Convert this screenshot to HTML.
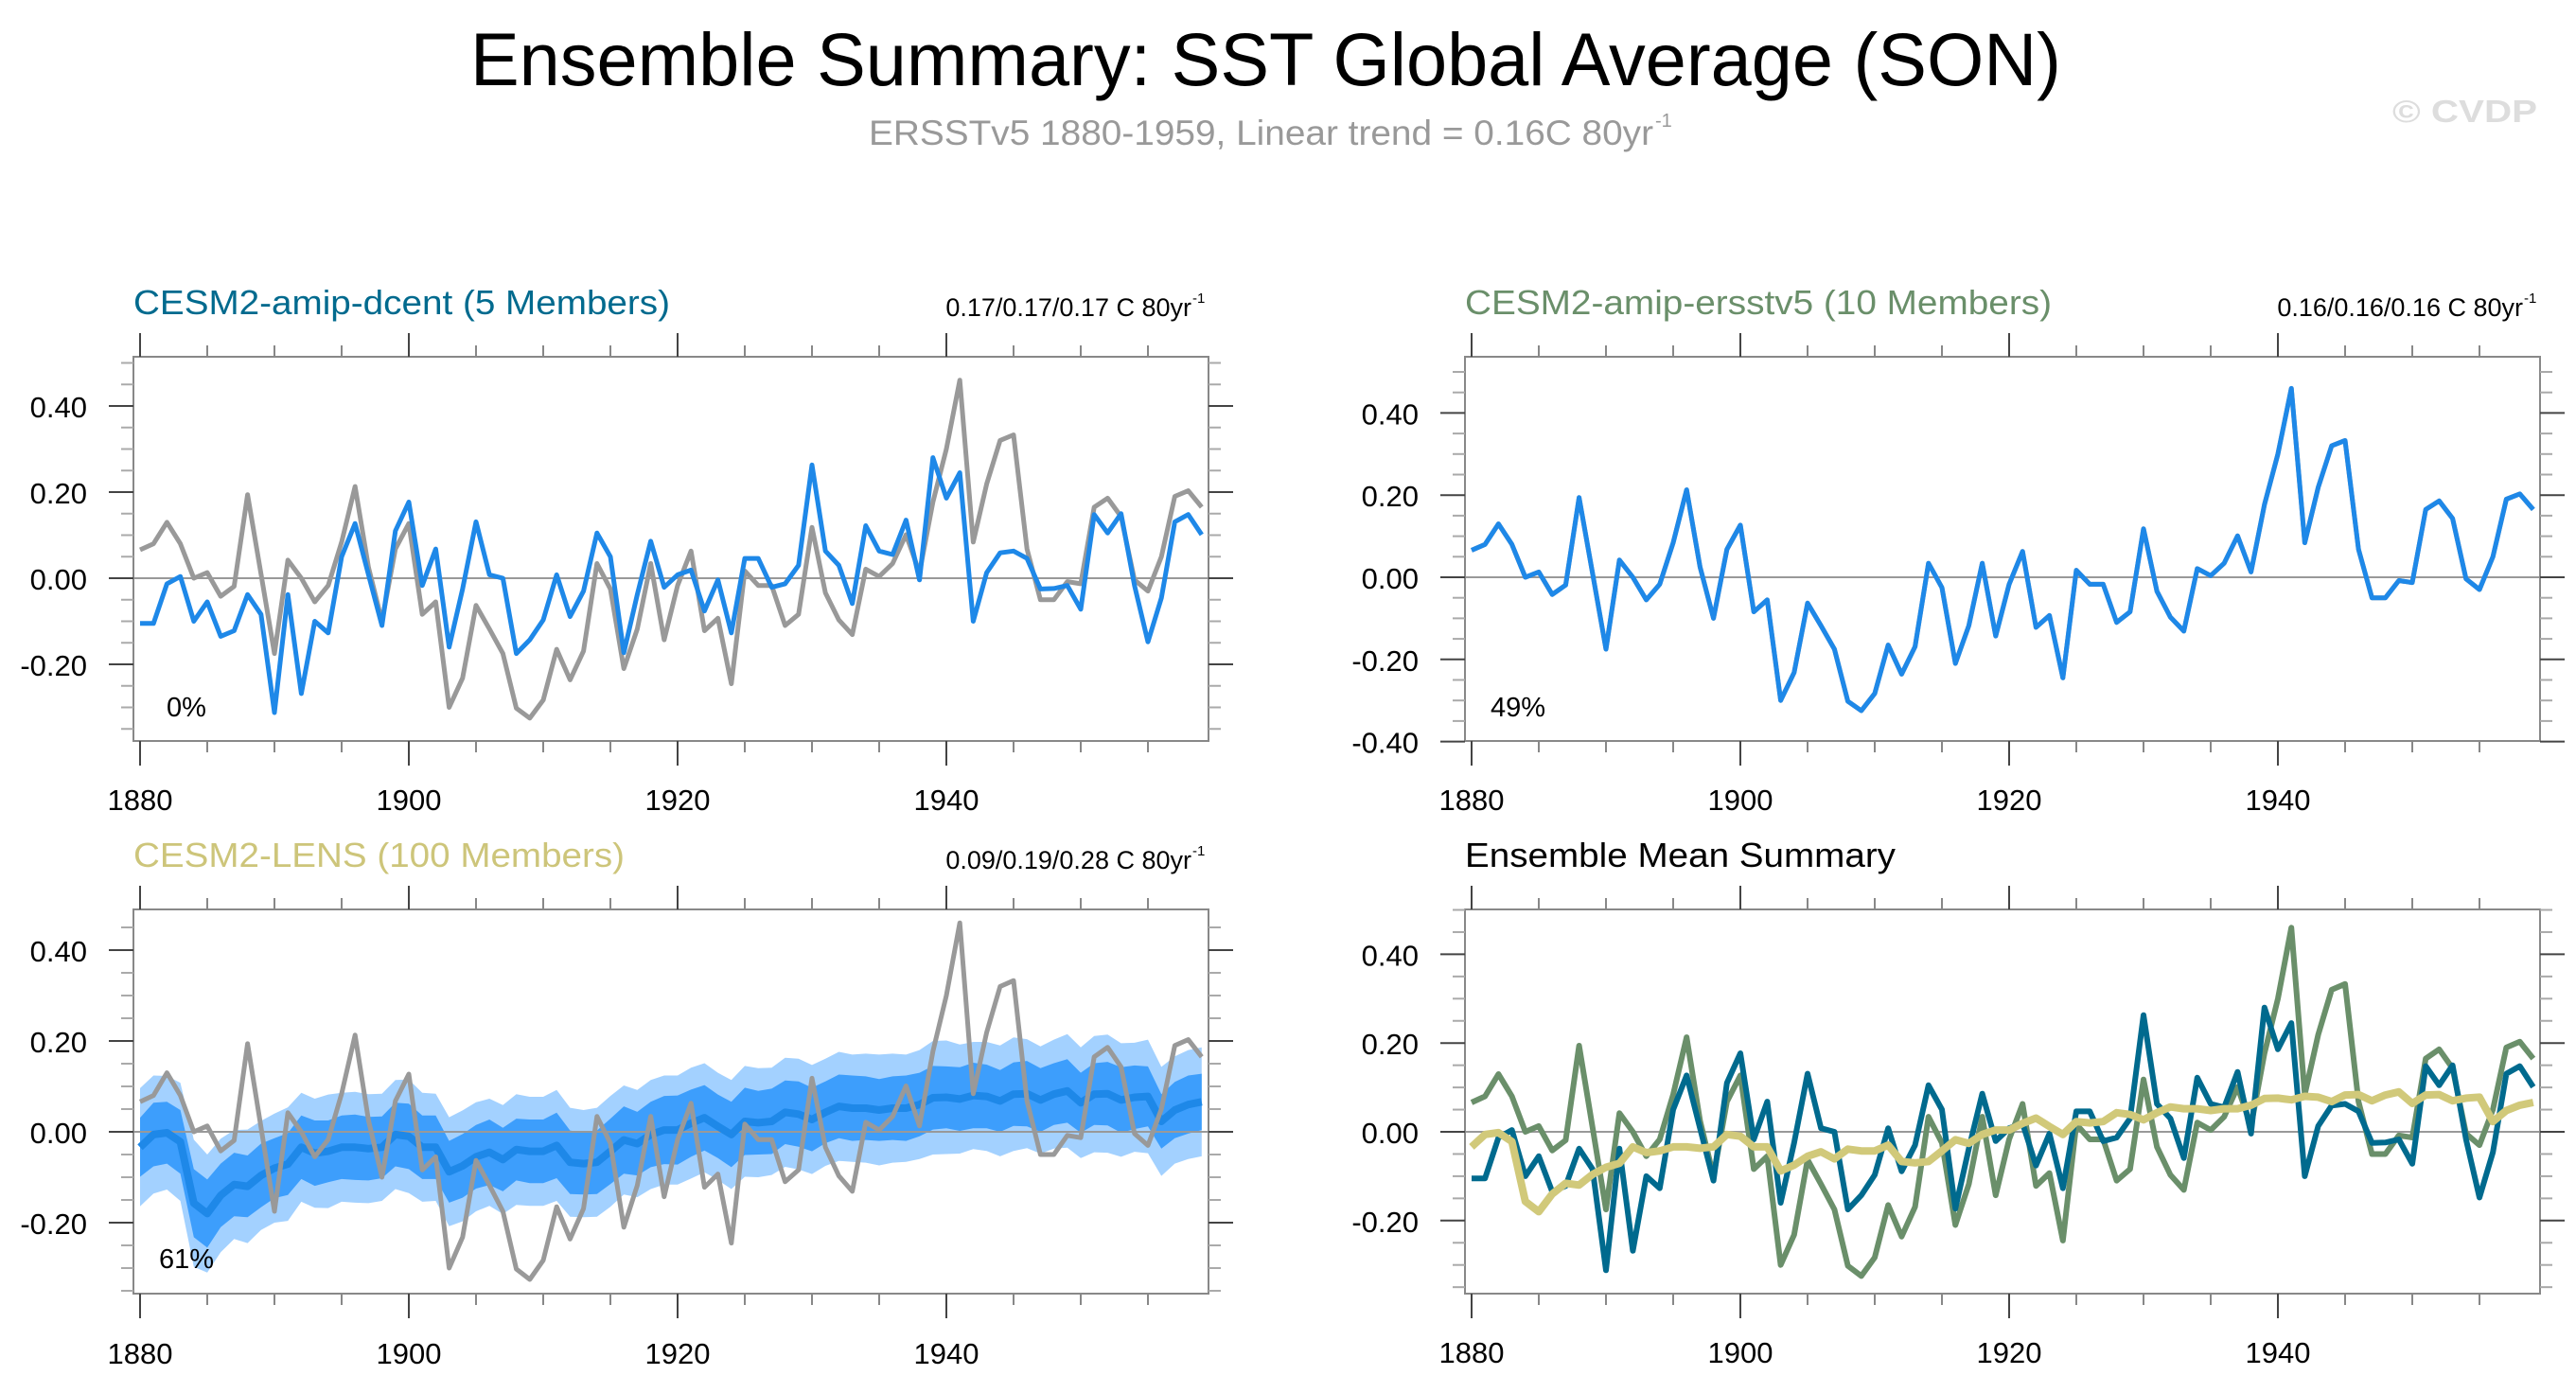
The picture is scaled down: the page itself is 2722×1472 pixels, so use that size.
<!DOCTYPE html>
<html><head><meta charset="utf-8">
<style>
html,body{margin:0;padding:0;background:#fff;}
svg{display:block;font-family:"Liberation Sans",sans-serif;}
</style></head>
<body>
<svg id="fig" width="2722" height="1472" viewBox="0 0 2722 1472" xmlns="http://www.w3.org/2000/svg">
<text x="497" y="90" font-size="79" textLength="1681" lengthAdjust="spacingAndGlyphs" fill="#000">Ensemble Summary: SST Global Average (SON)</text>
<text x="918" y="153" font-size="37" textLength="829" lengthAdjust="spacingAndGlyphs" fill="#999">ERSSTv5 1880-1959, Linear trend = 0.16C 80yr</text>
<text x="1749" y="134" font-size="20" fill="#999">-1</text>
<text x="2528" y="129" font-size="33" font-weight="bold" textLength="153" lengthAdjust="spacingAndGlyphs" fill="#ddd">© CVDP</text>
<g id="plots"></g>
</svg>
<script>
const years = [];
for (let y = 1880; y <= 1959; y++) years.push(y);

const obsSeries = [0.066,0.08,0.13,0.08,0.0,0.013,-0.042,-0.019,0.194,0.01,-0.175,0.042,0.0,-0.055,-0.017,0.084,0.213,0.025,-0.1,0.068,
0.127,-0.084,-0.055,-0.3,-0.232,-0.063,-0.118,-0.175,-0.302,-0.325,-0.283,-0.165,-0.236,-0.169,0.034,-0.025,-0.21,-0.118,0.034,-0.143,
-0.017,0.063,-0.122,-0.093,-0.245,0.017,-0.017,-0.017,-0.11,-0.084,0.118,-0.034,-0.097,-0.131,0.021,0.004,0.034,0.101,0.013,0.177,
0.30,0.46,0.084,0.219,0.32,0.333,0.068,-0.05,-0.05,-0.008,-0.013,0.165,0.186,0.143,-0.004,-0.03,0.05,0.19,0.203,0.165];

const dcentSeries = [-0.105,-0.105,-0.013,0.004,-0.10,-0.055,-0.135,-0.122,-0.038,-0.084,-0.312,-0.038,-0.268,-0.10,-0.127,0.05,0.127,0.008,-0.11,0.11,
0.177,-0.017,0.068,-0.16,-0.025,0.131,0.008,0.0,-0.175,-0.143,-0.097,0.008,-0.089,-0.03,0.105,0.05,-0.173,-0.038,0.086,-0.021,
0.008,0.019,-0.076,-0.004,-0.127,0.046,0.046,-0.021,-0.013,0.03,0.263,0.063,0.03,-0.059,0.122,0.063,0.055,0.135,-0.004,0.28,
0.186,0.245,-0.10,0.013,0.059,0.063,0.046,-0.025,-0.024,-0.017,-0.072,0.148,0.105,0.15,-0.017,-0.148,-0.046,0.131,0.148,0.101];

const ersstv5Series = obsSeries.slice();

const lensMean = [-0.034,-0.006,-0.002,-0.022,-0.157,-0.18,-0.14,-0.116,-0.12,-0.096,-0.08,-0.071,-0.034,-0.047,-0.043,-0.034,-0.034,-0.037,-0.034,-0.006,
-0.01,-0.034,-0.034,-0.088,-0.075,-0.055,-0.045,-0.061,-0.039,-0.043,-0.043,-0.03,-0.067,-0.07,-0.067,-0.043,-0.018,-0.026,-0.006,0.004,
0.004,0.019,0.031,0.012,-0.006,0.023,0.02,0.023,0.043,0.039,0.027,0.043,0.056,0.052,0.052,0.048,0.052,0.052,0.06,0.075,
0.076,0.072,0.08,0.078,0.068,0.083,0.084,0.07,0.083,0.09,0.064,0.083,0.084,0.07,0.076,0.078,0.023,0.048,0.06,0.066];

const innerHalf = [0.065,0.07,0.068,0.07,0.075,0.075,0.07,0.07,0.068,0.07,0.066,0.068,0.07,0.072,0.068,0.07,0.072,0.07,0.068,0.07,
0.072,0.07,0.07,0.068,0.07,0.07,0.072,0.07,0.068,0.07,0.07,0.072,0.07,0.068,0.07,0.072,0.074,0.07,0.072,0.075,
0.076,0.074,0.072,0.07,0.072,0.074,0.07,0.072,0.07,0.072,0.07,0.068,0.07,0.072,0.07,0.068,0.07,0.072,0.07,0.07,
0.068,0.07,0.072,0.07,0.068,0.07,0.072,0.07,0.068,0.07,0.066,0.068,0.07,0.072,0.07,0.066,0.06,0.062,0.064,0.062];

const outerHalf = [0.13,0.13,0.125,0.13,0.14,0.13,0.125,0.12,0.125,0.12,0.12,0.125,0.12,0.12,0.125,0.12,0.122,0.12,0.118,0.12,
0.125,0.12,0.118,0.12,0.122,0.12,0.118,0.12,0.122,0.12,0.12,0.122,0.12,0.118,0.12,0.122,0.12,0.118,0.12,0.12,
0.12,0.122,0.12,0.118,0.12,0.122,0.12,0.118,0.12,0.122,0.12,0.118,0.12,0.118,0.12,0.122,0.12,0.118,0.12,0.125,
0.125,0.12,0.118,0.12,0.122,0.125,0.12,0.118,0.12,0.125,0.122,0.128,0.13,0.125,0.12,0.125,0.12,0.118,0.12,0.12];

const xTickYears = [1880,1900,1920,1940];
const yTicksA = [0.4,0.2,0.0,-0.2];
const yTicksB = [0.4,0.2,0.0,-0.2,-0.4];

const NS = "http://www.w3.org/2000/svg";
const root = document.getElementById('plots');
function mk(tag, attrs, parent) {
  const e = document.createElementNS(NS, tag);
  for (const k in attrs) e.setAttribute(k, attrs[k]);
  (parent || root).appendChild(e);
  return e;
}

function panel(cfg) {
  const g = mk('g', {});
  
  
  const xs = yr => cfg.x1880 + (yr - 1880) * 14.2;
  const ys = v => cfg.y0 - v * cfg.ppu;
  const b = cfg.box;
  if (cfg.bands) {
    [[outerHalf, '#a3d1ff', 'outer-spread-band'], [innerHalf, '#3d9efc', 'inner-spread-band']].forEach(([hw, col, nm]) => {
      let pts = years.map((yr, i) => xs(yr).toFixed(1) + ',' + ys(lensMean[i] + hw[i]).toFixed(1));
      let lo = years.map((yr, i) => xs(yr).toFixed(1) + ',' + ys(lensMean[i] - hw[i]).toFixed(1)).reverse();
      const p = mk('polygon', {points: pts.concat(lo).join(' '), fill: col}, g);
      
      
    });
  }
  const z = mk('line', {x1: b.l, x2: b.r, y1: ys(0), y2: ys(0), stroke: '#999', 'stroke-width': 2}, g);
  
  
  cfg.series.forEach(s => {
    const d = s.data.map((v, i) => (i ? 'L' : 'M') + xs(years[i]).toFixed(1) + ' ' + ys(v).toFixed(1)).join(' ');
    const p = mk('path', {d: d, fill: 'none', stroke: s.color, 'stroke-width': s.w, 'stroke-linejoin': 'round'}, g);
    
    
  });
  const r = mk('rect', {x: b.l, y: b.t, width: b.r - b.l, height: b.b - b.t, fill: 'none', stroke: '#888', 'stroke-width': 2}, g);
  
  
  for (let yr = 1880; yr <= 1955; yr += 5) {
    const maj = yr % 20 === 0;
    const x = xs(yr);
    mk('line', {x1: x, x2: x, y1: b.t - (maj ? 25 : 12), y2: b.t, stroke: maj ? '#444' : '#888', 'stroke-width': 2}, g);
    mk('line', {x1: x, x2: x, y1: b.b, y2: b.b + (maj ? 26 : 12), stroke: maj ? '#444' : '#888', 'stroke-width': 2}, g);
  }
  xTickYears.forEach(yr => {
    const t = mk('text', {x: xs(yr), y: cfg.xLabelY, 'font-size': 31, 'text-anchor': 'middle', fill: '#000'}, g);
    t.textContent = yr;
    
    
  });
  for (let k = -8; k <= 10; k++) {
    const v = k * 0.05;
    const y = ys(v);
    if (y < b.t - 1 || y > b.b + 1) continue;
    const maj = Math.abs(k % 4) === 0;
    mk('line', {x1: b.l - (maj ? 26 : 13), x2: b.l, y1: y, y2: y, stroke: maj ? '#444' : '#aaa', 'stroke-width': 2}, g);
    mk('line', {x1: b.r, x2: b.r + (maj ? 26 : 13), y1: y, y2: y, stroke: maj ? '#444' : '#aaa', 'stroke-width': 2}, g);
  }
  cfg.yTicks.forEach(v => {
    const t = mk('text', {x: b.l - 49, y: ys(v) + 12, 'font-size': 31, 'text-anchor': 'end', fill: '#000'}, g);
    t.textContent = v.toFixed(2);
    
    
  });
  const tt = mk('text', {x: b.l, y: cfg.titleY, 'font-size': 36, fill: cfg.titleColor, textLength: cfg.titleW, lengthAdjust: 'spacingAndGlyphs'}, g);
  tt.textContent = cfg.title;
  
  
  if (cfg.trend) {
    const tr = mk('text', {x: b.r - 18, y: cfg.titleY + 2, 'font-size': 27, 'text-anchor': 'end', fill: '#000'}, g);
    tr.textContent = cfg.trend;
    
    
    const sp = mk('text', {x: b.r - 17, y: cfg.titleY - 12, 'font-size': 15, fill: '#000'}, g);
    sp.textContent = '-1';
    
    
  }
  if (cfg.pct) {
    const pc = mk('text', {x: cfg.pct.x, y: cfg.pct.y, 'font-size': 29, fill: '#000'}, g);
    pc.textContent = cfg.pct.t;
    
    
  }
}

panel({name: 'panel-cesm2-amip-dcent', x1880: 148, y0: 611, ppu: 455,
  box: {l: 141, t: 377, r: 1277, b: 783}, xLabelY: 856, yTicks: yTicksA,
  title: 'CESM2-amip-dcent (5 Members)', titleColor: '#006a8e', titleY: 332, titleW: 567,
  trend: '0.17/0.17/0.17 C 80yr', pct: {x: 176, y: 757, t: '0%'},
  series: [{data: obsSeries, color: '#999', w: 5, name: 'obs-line'}, {data: dcentSeries, color: '#1e88e8', w: 5, name: 'dcent-mean-line'}]});

panel({name: 'panel-cesm2-amip-ersstv5', x1880: 1555, y0: 610, ppu: 434,
  box: {l: 1548, t: 377, r: 2684, b: 783}, xLabelY: 856, yTicks: yTicksB,
  title: 'CESM2-amip-ersstv5 (10 Members)', titleColor: '#6a8f6a', titleY: 332, titleW: 620,
  trend: '0.16/0.16/0.16 C 80yr', pct: {x: 1575, y: 757, t: '49%'},
  series: [{data: obsSeries, color: '#999', w: 5, name: 'obs-line'}, {data: ersstv5Series, color: '#1e88e8', w: 5, name: 'ersstv5-mean-line'}]});

panel({name: 'panel-cesm2-lens', x1880: 148, y0: 1196, ppu: 480, bands: true,
  box: {l: 141, t: 961, r: 1277, b: 1367}, xLabelY: 1441, yTicks: yTicksA,
  title: 'CESM2-LENS (100 Members)', titleColor: '#cdc57a', titleY: 916, titleW: 519,
  trend: '0.09/0.19/0.28 C 80yr', pct: {x: 168, y: 1340, t: '61%'},
  series: [{data: lensMean, color: '#1e88e8', w: 8, name: 'lens-mean-line'}, {data: obsSeries, color: '#999', w: 5, name: 'obs-line'}]});

panel({name: 'panel-ensemble-mean-summary', x1880: 1555, y0: 1196, ppu: 469,
  box: {l: 1548, t: 961, r: 2684, b: 1367}, xLabelY: 1440, yTicks: yTicksA,
  title: 'Ensemble Mean Summary', titleColor: '#000', titleY: 916, titleW: 455,
  series: [{data: ersstv5Series, color: '#6a8f6a', w: 6, name: 'ersstv5-mean-line'}, {data: dcentSeries, color: '#006a8e', w: 6, name: 'dcent-mean-line'}, {data: lensMean, color: '#d1c97a', w: 8, name: 'lens-mean-line'}]});
</script>
</body></html>
